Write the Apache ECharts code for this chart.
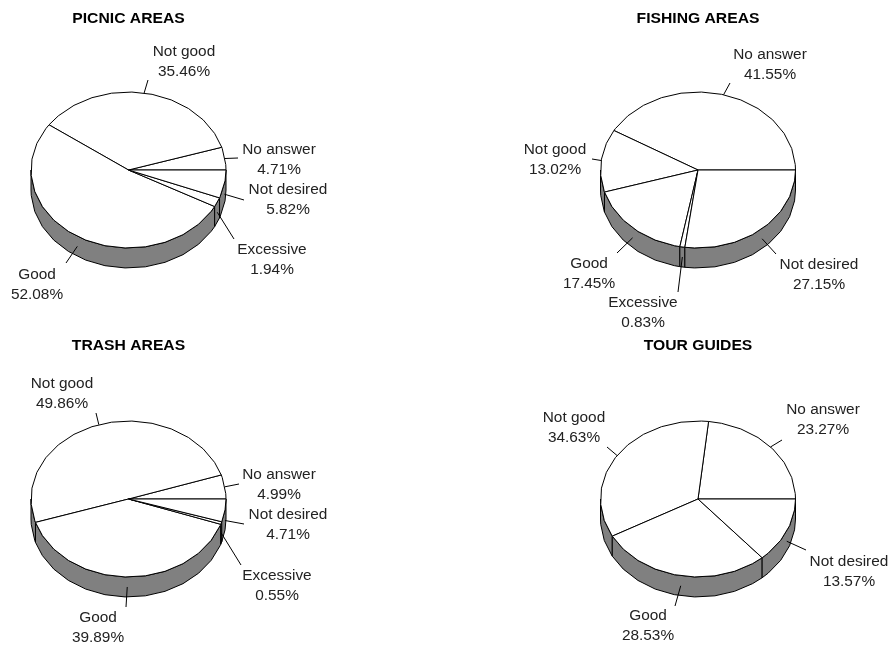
<!DOCTYPE html>
<html>
<head>
<meta charset="utf-8">
<style>html,body{margin:0;padding:0;background:#fff}#chart{width:893px;height:645px}</style>
<script src="https://cdn.jsdelivr.net/npm/echarts@6/dist/echarts.min.js"></script>
</head>
<body>
<div id="chart"></div>
<script>
// Survey answers in drawing order, counter-clockwise from 3 o'clock.
const categories = ['No answer', 'Not good', 'Good', 'Excessive', 'Not desired'];
const picnicValues = [4.71, 35.46, 52.08, 1.94, 5.82];
const fishingValues = [41.55, 13.02, 17.45, 0.83, 27.15];
const trashValues = [4.99, 49.86, 39.89, 0.55, 4.71];
const tourValues = [23.27, 34.63, 28.53, null, 13.57];

// Placement of each tilted pie and of its callouts: [leader end x, y, label centre x, first line y].
const pies = [
  { title: 'PICNIC AREAS', values: picnicValues, cx: 128.5, cy: 170, titleX: 128.5, titleY: 19, callouts: [
    [238, 158, 279, 150], [148, 80, 184, 52], [66, 263, 37, 275], [234, 239, 272, 250], [244, 200, 288, 190]] },
  { title: 'FISHING AREAS', values: fishingValues, cx: 698, cy: 170, titleX: 698, titleY: 19, callouts: [
    [730, 83, 770, 55], [592, 159, 555, 150], [617, 253, 589, 264], [678, 292, 643, 303], [776, 254, 819, 265]] },
  { title: 'TRASH AREAS', values: trashValues, cx: 128.5, cy: 499, titleX: 128.5, titleY: 346, callouts: [
    [239, 484, 279, 475], [96, 413, 62, 384], [126, 607, 98, 618], [241, 565, 277, 576], [244, 524, 288, 515]] },
  { title: 'TOUR GUIDES', values: tourValues, cx: 698, cy: 499, titleX: 698, titleY: 346, callouts: [
    [782, 440, 823, 410], [607, 447, 574, 418], [675, 606, 648, 616], null, [806, 550, 849, 562]] }
];

const RX = 97.5, RY = 78, DEPTH = 20, FACET = 12, FACET_PHASE = 4;
const LABEL_FONT = '14px "Liberation Sans", Arial, sans-serif';
const TITLE_FONT = 'bold 14px "Liberation Sans", Arial, sans-serif';
const LABEL_STRETCH = 1.1, TITLE_STRETCH = 1.12;

// Point on the rim for an angle in degrees, measured counter-clockwise on screen.
function rim(pie, deg, drop) {
  const r = deg * Math.PI / 180;
  return [pie.cx + RX * Math.cos(r), pie.cy - RY * Math.sin(r) + (drop || 0)];
}

// Angles along an arc, with the rim's straight facets between the two ends.
function arcAngles(a0, a1) {
  const out = [a0];
  let k = Math.ceil((a0 - FACET_PHASE) / FACET) * FACET + FACET_PHASE;
  for (; k < a1; k += FACET) if (k > a0) out.push(k);
  out.push(a1);
  return out;
}

function makeRenderItem(pie) {
  return function (params, api) {
    const value = api.value(0);
    const index = api.value(1);
    let before = 0;
    for (let i = 0; i < index; i++) before += pie.values[i] || 0;
    const total = pie.values.reduce((s, v) => s + (v || 0), 0);
    const a0 = before / total * 360;
    const a1 = (before + value) / total * 360;
    const mid = (a0 + a1) / 2;
    const children = [];

    // Outer wall, only where the slice faces the viewer.
    const w0 = Math.max(a0, 180), w1 = Math.min(a1, 360);
    if (w1 > w0) {
      const angles = arcAngles(w0, w1);
      const upper = angles.map(a => rim(pie, a));
      const lower = angles.slice().reverse().map(a => rim(pie, a, DEPTH));
      children.push({
        type: 'polygon', z2: 1,
        shape: { points: upper.concat(lower) },
        style: { fill: '#808080', stroke: '#000', lineWidth: 1 }
      });
    }

    // Top face of the slice.
    const face = [[pie.cx, pie.cy]].concat(arcAngles(a0, a1).map(a => rim(pie, a)));
    children.push({
      type: 'polygon', z2: 2,
      shape: { points: face },
      style: { fill: '#fff', stroke: '#000', lineWidth: 1 }
    });

    // Leader line from the rim (mid-wall on the near side) and the two-line label.
    const c = pie.callouts[index];
    const start = rim(pie, mid, mid > 180 ? DEPTH / 2 : 0);
    children.push({
      type: 'line', z2: 3,
      shape: { x1: start[0], y1: start[1], x2: c[0], y2: c[1] },
      style: { stroke: '#000', lineWidth: 1, fill: null }
    });
    [categories[index], value.toFixed(2) + '%'].forEach((t, i) => {
      children.push({
        type: 'text', z2: 4,
        x: c[2], y: c[3] + i * 20.5, scaleX: LABEL_STRETCH,
        style: {
          text: t, x: 0, y: 0,
          align: 'center', verticalAlign: 'middle',
          fill: '#222', font: LABEL_FONT
        }
      });
    });
    return { type: 'group', children: children };
  };
}

const option = {
  backgroundColor: '#fff',
  animation: false,
  graphic: pies.map(p => ({
    type: 'text', silent: true,
    x: p.titleX, y: p.titleY, scaleX: TITLE_STRETCH,
    style: { text: p.title, x: 0, y: 0, align: 'center', verticalAlign: 'middle', fill: '#000', font: TITLE_FONT }
  })),
  series: pies.map(p => ({
    type: 'custom',
    name: p.title,
    coordinateSystem: 'none',
    silent: true,
    clip: false,
    renderItem: makeRenderItem(p),
    data: p.values.map((v, i) => (v === null ? null : [v, i])).filter(Boolean)
  }))
};

echarts.init(document.getElementById('chart'), null, { renderer: 'canvas' }).setOption(option);
</script>
</body>
</html>
